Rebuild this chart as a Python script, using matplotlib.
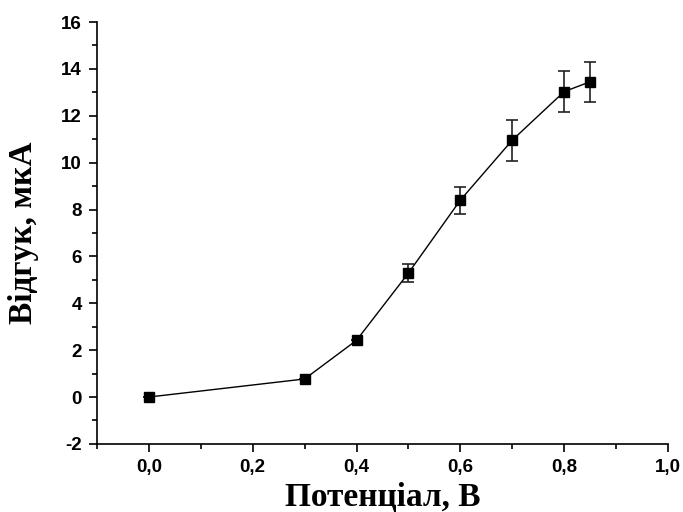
import matplotlib
matplotlib.use("Agg")
import matplotlib.pyplot as plt
from matplotlib.ticker import MultipleLocator, FuncFormatter

# data
potential = [0.0, 0.3, 0.4, 0.5, 0.6, 0.7, 0.8, 0.85]
response = [0.0, 0.77, 2.42, 5.29, 8.40, 10.96, 13.03, 13.45]
err = [0.0, 0.0, 0.0, 0.38, 0.57, 0.88, 0.87, 0.85]

fig = plt.figure(figsize=(6.83, 5.12), dpi=100)
ax = fig.add_axes([0.142, 0.133, 0.836, 0.824])

ax.errorbar(potential, response, yerr=err, color='black', lw=1,
            marker='s', ms=7, mfc='black', mec='black',
            ecolor='#222222', elinewidth=1.2, capsize=4, capthick=1.2)

ax.set_xlim(-0.1, 1.0)
ax.set_ylim(-2, 16)
ax.xaxis.set_major_locator(MultipleLocator(0.2))
ax.xaxis.set_minor_locator(MultipleLocator(0.1))
ax.yaxis.set_major_locator(MultipleLocator(2))
ax.yaxis.set_minor_locator(MultipleLocator(1))
ax.xaxis.set_major_formatter(FuncFormatter(lambda v, p: ('%.1f' % v).replace('.', ',')))
ax.yaxis.set_major_formatter(FuncFormatter(lambda v, p: '%d' % round(v)))

ax.spines['top'].set_visible(False)
ax.spines['right'].set_visible(False)
for s in ('left', 'bottom'):
    ax.spines[s].set_linewidth(1.2)
ax.tick_params(which='major', direction='out', length=6, width=1.2, pad=5)
ax.tick_params(which='minor', direction='out', length=3.5, width=1.2)
for lab in ax.get_xticklabels() + ax.get_yticklabels():
    lab.set_fontfamily('Liberation Sans')
    lab.set_fontweight('bold')
    lab.set_fontsize(13.5)

ax.set_xlabel('Потенціал, В', fontfamily='Liberation Serif', fontweight='bold', fontsize=24, labelpad=4)
ax.set_ylabel('Відгук, мкА', fontfamily='Liberation Serif', fontweight='bold', fontsize=24, labelpad=16)

plt.savefig('out.png', dpi=100)
